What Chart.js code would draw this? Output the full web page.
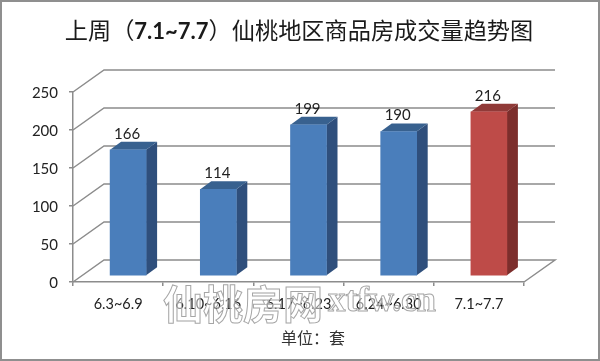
<!DOCTYPE html>
<html lang="zh">
<head>
    <meta charset="UTF-8">
    <title>仙桃地区商品房成交量趋势图</title>
    <script src="https://cdn.jsdelivr.net/npm/chart.js"></script>
    <style>
        body { margin: 0; padding: 0; background: #fff; overflow: hidden; }
        #wrap { position: relative; width: 600px; height: 361px; }
        #frame { position: absolute; left: 0; top: 0; width: 596px; height: 357px; border: 2px solid #8f8f8f; pointer-events: none; }
        #title {
            position: absolute; left: 0; top: 13px; width: 598px; text-align: center;
            font: 23.2px/32px "Noto Sans CJK SC", sans-serif; color: #1a1a1a; white-space: nowrap;
        }
        #title b { font-family: "Lato", sans-serif; font-size: 22px; }
        canvas { position: absolute; left: 0; top: 0; }
    </style>
</head>
<body>
<div id="wrap">
    <canvas id="chart" width="600" height="361"></canvas>
    <div id="title">上周（<b>7.1~7.7</b>）仙桃地区商品房成交量趋势图</div>
    <div id="frame"></div>
</div>
<script>
    const categories = ["6.3~6.9", "6.10~6.16", "6.17~6.23", "6.24~6.30", "7.1~7.7"];
    const volumes = [166, 114, 199, 190, 216];
    const yTicks = [0, 50, 100, 150, 200, 250];
    const frontColors = ["#4a7ebb", "#4a7ebb", "#4a7ebb", "#4a7ebb", "#be4b48"];
    const topColors = ["#38618f", "#38618f", "#38618f", "#38618f", "#903a38"];
    const sideColors = ["#2f4f7c", "#2f4f7c", "#2f4f7c", "#2f4f7c", "#7c2e2c"];
    const unitLabel = "单位：套";

    const gridColor = "#8c8c8c";
    const wall = { dx: 31, dy: -22 };   // 背面の奥行き
    const bar3d = { dx: 11, dy: -8, shiftX: 10, shiftY: -6 };

    const wallPlugin = {
        id: "wall3d",
        beforeDatasetsDraw(chart) {
            const { ctx, chartArea, scales } = chart;
            const y = scales.y;
            ctx.save();
            ctx.strokeStyle = gridColor;
            ctx.lineWidth = 1.5;
            yTicks.forEach(v => {
                const py = y.getPixelForValue(v);
                ctx.beginPath();
                ctx.moveTo(chartArea.left, py);
                ctx.lineTo(chartArea.left + wall.dx, py + wall.dy);
                ctx.lineTo(chartArea.right + wall.dx, py + wall.dy);
                if (v === 0) ctx.lineTo(chartArea.right, py);
                ctx.stroke();
            });
            ctx.restore();

            // 棒の側面と上面
            ctx.save();
            ctx.translate(bar3d.shiftX, bar3d.shiftY);
            chart.getDatasetMeta(0).data.forEach((bar, i) => {
                const half = bar.width / 2;
                const l = bar.x - half, r = bar.x + half, t = bar.y, b = bar.base;
                ctx.fillStyle = sideColors[i];
                ctx.beginPath();
                ctx.moveTo(r, t);
                ctx.lineTo(r + bar3d.dx, t + bar3d.dy);
                ctx.lineTo(r + bar3d.dx, b + bar3d.dy);
                ctx.lineTo(r, b);
                ctx.closePath();
                ctx.fill();
                ctx.fillStyle = topColors[i];
                ctx.beginPath();
                ctx.moveTo(l, t);
                ctx.lineTo(l + bar3d.dx, t + bar3d.dy);
                ctx.lineTo(r + bar3d.dx, t + bar3d.dy);
                ctx.lineTo(r, t);
                ctx.closePath();
                ctx.fill();
            });
        },
        afterDatasetsDraw(chart) {
            const { ctx } = chart;
            ctx.restore();
            ctx.save();
            ctx.fillStyle = "#222";
            ctx.font = '15px "Lato", sans-serif';
            ctx.textAlign = "center";
            ctx.textBaseline = "middle";
            chart.getDatasetMeta(0).data.forEach((bar, i) => {
                ctx.fillText(String(volumes[i]), bar.x + bar3d.shiftX - 1, bar.y + bar3d.shiftY - 16);
            });
            // y軸ラベル（目盛より少し下げる）
            ctx.textAlign = "right";
            yTicks.forEach(v => {
                ctx.fillText(String(v), 58, chart.scales.y.getPixelForValue(v) + 1.5);
            });
            ctx.restore();
        },
        afterDraw(chart) {
            const { ctx } = chart;
            ctx.save();
            ctx.fillStyle = "#333";
            ctx.font = '16px "Noto Sans CJK SC", sans-serif';
            ctx.textAlign = "center";
            ctx.textBaseline = "middle";
            ctx.fillText(unitLabel, 313, 338);

            // 透かし
            ctx.strokeStyle = "#a6a6a6";
            ctx.lineWidth = 1;
            ctx.textAlign = "left";
            ctx.fillStyle = "rgba(255,255,255,0.5)";
            ctx.font = 'bold 40px "Noto Sans CJK SC", sans-serif';
            ctx.fillText("仙桃房网", 163, 304);
            ctx.strokeText("仙桃房网", 163, 304);
            ctx.font = 'bold 35px "Liberation Serif", serif';
            ctx.fillText("xtfw.cn", 328, 302);
            ctx.strokeText("xtfw.cn", 328, 302);
            ctx.restore();
        }
    };

    new Chart(document.getElementById("chart").getContext("2d"), {
        type: "bar",
        data: {
            labels: categories,
            datasets: [{
                data: volumes,
                backgroundColor: frontColors,
                barThickness: 36,
                borderWidth: 0
            }]
        },
        options: {
            responsive: false,
            animation: false,
            layout: { padding: { left: 0, top: 92, right: 76, bottom: 0 } },
            plugins: { legend: { display: false }, title: { display: false }, tooltip: { enabled: false } },
            scales: {
                x: {
                    afterFit: s => { s.height = 79; },
                    grid: { drawOnChartArea: false, color: gridColor, tickLength: 4, lineWidth: 1.5, offset: true },
                    border: { color: gridColor, width: 1.5 },
                    ticks: { color: "#222", font: { family: "Lato", size: 14.5 }, padding: 10, maxRotation: 0, autoSkip: false }
                },
                y: {
                    min: 0,
                    max: 250,
                    afterFit: s => { s.width = 73; },
                    afterBuildTicks: s => { s.ticks = yTicks.map(v => ({ value: v })); },
                    grid: { drawOnChartArea: false, color: gridColor, tickLength: 4, lineWidth: 1.5 },
                    border: { color: gridColor, width: 1.5 },
                    ticks: { display: false }
                }
            }
        },
        plugins: [wallPlugin]
    });
</script>
</body>
</html>
